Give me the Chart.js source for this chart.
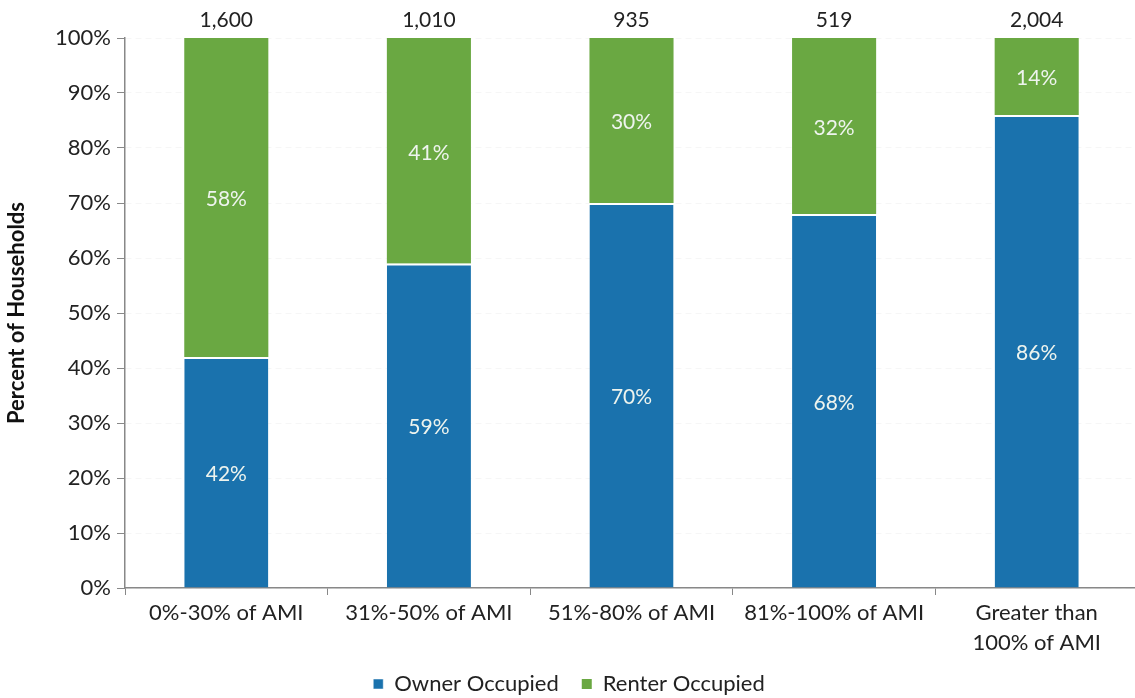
<!DOCTYPE html>
<html><head><meta charset="utf-8">
<script src="https://cdn.jsdelivr.net/npm/chart.js@4/dist/chart.umd.min.js"></script>
<style>html,body{margin:0;padding:0;background:#fff;overflow:hidden}#wrap{width:1140px;height:698px;position:relative}</style>
</head><body><div id="wrap"><canvas id="c"></canvas></div>
<script>
const categories = ["0%-30% of AMI","31%-50% of AMI","51%-80% of AMI","81%-100% of AMI",["Greater than","100% of AMI"]];
const ownerPct = [42, 59, 70, 68, 86];
const renterPct = [58, 41, 30, 32, 14];
const totals = ["1,600","1,010","935","519","2,004"];
const yTicks = [0,10,20,30,40,50,60,70,80,90,100];

const FONT = "Lato, 'Open Sans', sans-serif";

const labelPlugin = {
  id: 'labels',
  afterDatasetsDraw(chart) {
    const ctx = chart.ctx;
    ctx.save();
    ctx.font = "21px " + FONT;
    ctx.textAlign = 'center';
    ctx.textBaseline = 'middle';
    ctx.fillStyle = '#eef4ee';
    chart.data.datasets.forEach((ds, di) => {
      const meta = chart.getDatasetMeta(di);
      meta.data.forEach((bar, i) => {
        const y = (bar.y + bar.base) / 2;
        ctx.fillText(ds.data[i] + '%', bar.x, y + 2);
      });
    });
    ctx.fillStyle = '#222';
    const top = chart.getDatasetMeta(1);
    top.data.forEach((bar, i) => {
      ctx.fillText(totals[i], bar.x, bar.y - 18);
    });
    ctx.restore();
  }
};

new Chart(document.getElementById('c'), {
  type: 'bar',
  data: {
    labels: categories,
    datasets: [
      { label: 'Owner Occupied', data: ownerPct, backgroundColor: '#1a72ad',
        borderColor: '#ffffff', borderWidth: {top: 2, left: 0, right: 0, bottom: 0}, borderSkipped: false },
      { label: 'Renter Occupied', data: renterPct, backgroundColor: '#6aa842', borderWidth: 0 }
    ]
  },
  options: {
    responsive: true, maintainAspectRatio: false, animation: false,
    layout: { padding: { top: 38, left: 0, right: 2, bottom: -7 } },
    datasets: { bar: { barPercentage: 1, categoryPercentage: 0.415 } },
    plugins: {
      tooltip: { enabled: false },
      legend: {
        position: 'bottom',
        labels: { font: { family: FONT, size: 22 }, color: '#222', usePointStyle: true, pointStyle: 'rect', boxWidth: 10, boxHeight: 10, padding: 23 }
      }
    },
    scales: {
      x: {
        stacked: true,
        afterFit: (s) => { s.height = 62; },
        grid: { offset: true, drawOnChartArea: false, tickLength: 7, tickColor: '#888' },
        border: { color: '#888', width: 1.5 },
        ticks: { font: { family: FONT, size: 22, lineHeight: 1.35 }, color: '#222', maxRotation: 0, autoSkip: false, padding: 3 }
      },
      y: {
        stacked: true, min: 0, max: 100,
        afterFit: (s) => { s.width = 125; },
        afterBuildTicks: (s) => { s.ticks = yTicks.map(v => ({ value: v })); },
        grid: { color: 'rgba(0,0,0,0.035)', tickColor: '#888', tickLength: 8 },
        border: { color: '#888', width: 1.5, dash: [6, 4] },
        ticks: { font: { family: FONT, size: 22 }, color: '#222', padding: 6, callback: v => v + '%' },
        title: { display: true, text: 'Percent of Households', font: { family: FONT, size: 22, weight: 'bold' }, color: '#111', padding: { bottom: 8 } }
      }
    }
  },
  plugins: [labelPlugin]
});
</script></body></html>
